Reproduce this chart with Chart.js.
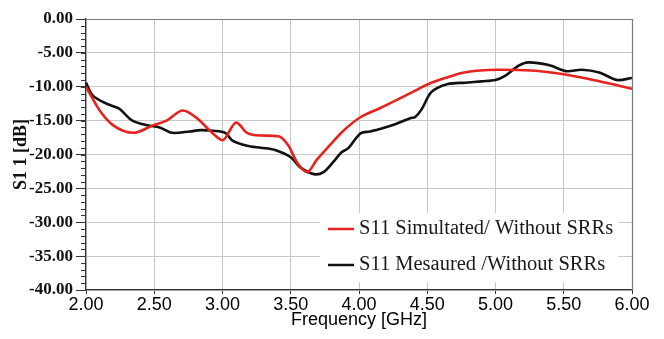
<!DOCTYPE html>
<html>
<head>
<meta charset="utf-8">
<script src="https://cdn.jsdelivr.net/npm/chart.js@4/dist/chart.umd.min.js"></script>
<style>
html,body{margin:0;padding:0;background:#fff;}
#wrap{width:664px;height:339px;position:relative;}
</style>
</head>
<body>
<div id="wrap"><canvas id="c" width="664" height="339"></canvas></div>
<script>
// Simulated S11 (red)
const simFreq = [2.00, 2.10, 2.20, 2.35, 2.49, 2.59, 2.71, 2.81, 2.93, 3.00, 3.10, 3.18, 3.28, 3.41, 3.48, 3.55, 3.62, 3.69, 3.77, 3.88, 4.01, 4.16, 4.38, 4.51, 4.65, 4.77, 5.02, 5.26, 5.51, 5.76, 6.00];
const simS11  = [-10.0, -13.5, -15.7, -16.8, -15.7, -15.0, -13.5, -14.6, -16.9, -17.9, -15.3, -16.8, -17.2, -17.3, -18.6, -21.3, -22.6, -20.8, -19.0, -16.6, -14.5, -13.1, -10.9, -9.6, -8.6, -7.9, -7.5, -7.6, -8.2, -9.2, -10.3];
// Measured S11 (black)
const measFreq = [2.00, 2.05, 2.15, 2.24, 2.34, 2.45, 2.54, 2.63, 2.76, 2.84, 2.93, 3.02, 3.07, 3.18, 3.28, 3.38, 3.50, 3.57, 3.67, 3.74, 3.82, 3.87, 3.92, 4.01, 4.08, 4.16, 4.27, 4.38, 4.41, 4.46, 4.53, 4.65, 4.78, 4.90, 5.00, 5.07, 5.17, 5.24, 5.39, 5.52, 5.63, 5.76, 5.89, 6.00];
const measS11  = [-9.4, -11.3, -12.5, -13.2, -15.0, -15.7, -16.0, -16.8, -16.6, -16.4, -16.5, -16.8, -17.9, -18.7, -19.0, -19.3, -20.4, -21.9, -22.9, -22.6, -20.9, -19.7, -19.1, -16.9, -16.6, -16.2, -15.5, -14.6, -14.5, -13.3, -10.8, -9.6, -9.4, -9.2, -9.0, -8.4, -6.9, -6.4, -6.8, -7.7, -7.5, -7.9, -9.0, -8.7];
const seriesNames = ["S11 Simultated/ Without SRRs", "S11 Mesaured /Without SRRs"];
const xTicks = [2.0, 2.5, 3.0, 3.5, 4.0, 4.5, 5.0, 5.5, 6.0];
const yTicks = [0, -5, -10, -15, -20, -25, -30, -35, -40];

const toPts = (xs, ys) => xs.map((x, i) => ({x: x, y: ys[i]}));

const decor = {
  id: 'decor',
  afterDraw(chart) {
    const ctx = chart.ctx, a = chart.chartArea;
    const ys = chart.scales.y;
    ctx.save();
    // frame top/right
    ctx.strokeStyle = '#7a7a7a';
    ctx.lineWidth = 1.2;
    ctx.beginPath();
    ctx.moveTo(a.left, a.top + 0.5); ctx.lineTo(a.right + 0.5, a.top + 0.5); ctx.lineTo(a.right + 0.5, a.bottom);
    ctx.stroke();
    // minor ticks on y axis
    ctx.strokeStyle = '#333';
    ctx.lineWidth = 1;
    for (let v = ys.min; v <= ys.max; v += 1) {
      const py = Math.round(ys.getPixelForValue(v)) + 0.5;
      ctx.beginPath(); ctx.moveTo(a.left - 5, py); ctx.lineTo(a.left, py); ctx.stroke();
    }
    // legend
    const bx = 320, by = 213, bw = 298, bh = 69;
    ctx.fillStyle = '#fff';
    ctx.fillRect(bx, by, bw, bh);
    ctx.font = '20.5px "Liberation Serif", "Times New Roman", serif';
    ctx.textBaseline = 'middle';
    chart.data.datasets.forEach((ds, i) => {
      const cy = 229 + i * 36;
      ctx.strokeStyle = ds.borderColor;
      ctx.lineWidth = 2.5;
      ctx.beginPath(); ctx.moveTo(328, cy); ctx.lineTo(354, cy); ctx.stroke();
      ctx.fillStyle = '#1a1a1a';
      ctx.fillText(ds.label, 359, cy);
    });
    ctx.restore();
  }
};

new Chart(document.getElementById('c'), {
  type: 'line',
  data: {
    datasets: [
      {label: seriesNames[0], data: toPts(simFreq, simS11), borderColor: '#e5231f', borderWidth: 2.6, pointRadius: 0, tension: 0.4, cubicInterpolationMode: 'monotone', fill: false},
      {label: seriesNames[1], data: toPts(measFreq, measS11), borderColor: '#111111', borderWidth: 2.6, pointRadius: 0, tension: 0.3, fill: false}
    ]
  },
  options: {
    responsive: false,
    animation: false,
    devicePixelRatio: 1,
    layout: {padding: {top: 19, right: 32, left: 0, bottom: 0}},
    plugins: {legend: {display: false}, tooltip: {enabled: false}},
    scales: {
      x: {
        type: 'linear', min: 2, max: 6,
        afterBuildTicks: s => { s.ticks = xTicks.map(v => ({value: v})); },
        afterFit: s => { s.height = 49; },
        grid: {color: '#c9c9c9', lineWidth: 1, tickLength: 4, tickColor: '#333'},
        border: {color: '#333', width: 1.2},
        ticks: {color: '#000', padding: 0, maxRotation: 0, font: {family: '"Liberation Sans", Arial, sans-serif', size: 18}, callback: v => Number(v).toFixed(2)},
        title: {display: true, text: 'Frequency [GHz]', color: '#000', font: {family: '"Liberation Sans", Arial, sans-serif', size: 18}, padding: {top: 0, bottom: 8}}
      },
      y: {
        min: -40, max: 0,
        afterBuildTicks: s => { s.ticks = yTicks.map(v => ({value: v})); },
        afterFit: s => { s.width = 86; },
        grid: {color: '#c9c9c9', lineWidth: 1, tickLength: 10, tickColor: '#333'},
        border: {color: '#333', width: 1.2},
        ticks: {color: '#111', padding: 3, font: {family: '"Liberation Serif", "Times New Roman", serif', size: 17, weight: 'bold'}, callback: v => Number(v).toFixed(2)},
        title: {display: true, text: 'S1 1 [dB]', color: '#111', font: {family: '"Liberation Serif", "Times New Roman", serif', size: 18, weight: 'bold'}, padding: {top: 11, bottom: 0}}
      }
    }
  },
  plugins: [decor]
});
</script>
</body>
</html>
